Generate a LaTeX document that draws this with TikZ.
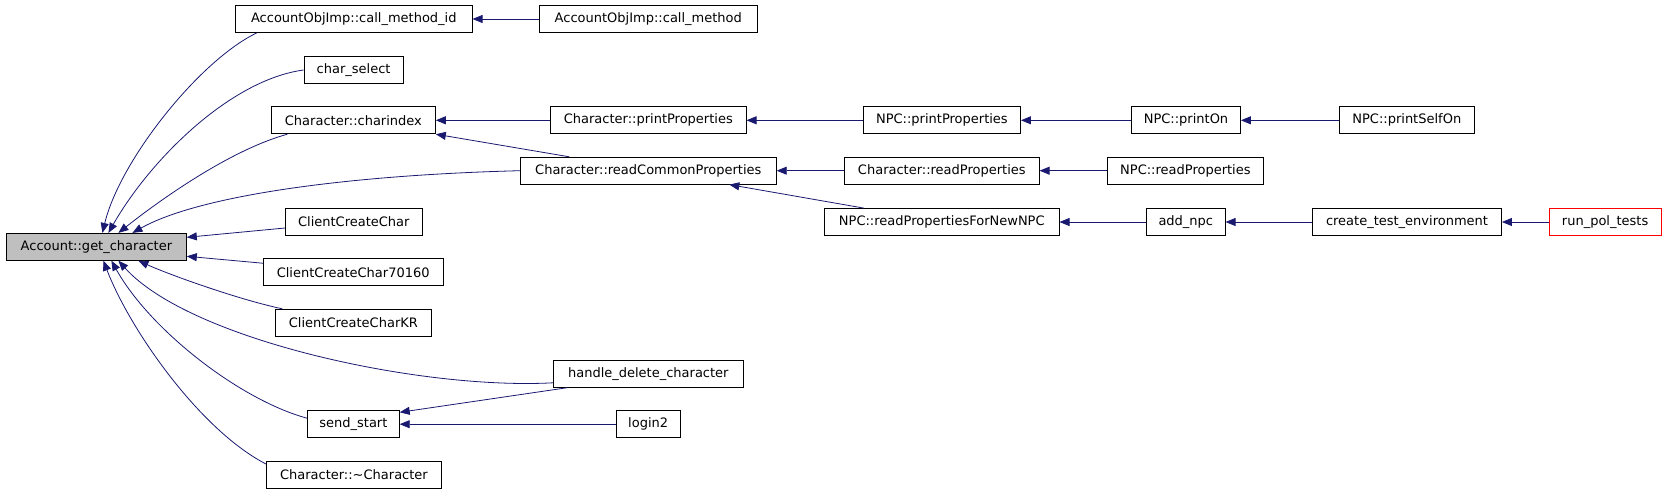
\documentclass[tikz,border=0pt]{standalone}
\usepackage{fontspec}
\setmainfont{DejaVu Sans}
\usetikzlibrary{arrows.meta}
\definecolor{edgeblue}{RGB}{25,25,112}
\definecolor{curgray}{RGB}{191,191,191}
\begin{document}
\begin{tikzpicture}[x=1pt,y=-1pt,
		fn/.style={draw,fill=white,line width=0.8pt,minimum height=27pt,inner xsep=1pt,inner ysep=0pt,font=\fontsize{13}{15}\selectfont},
		call/.style={->,draw=edgeblue,line width=0.8pt},
		>={Triangle[length=10pt,width=8pt]}]
		\useasboundingbox (0,0) rectangle (1667,493);
		\node[fn,fill=curgray,minimum width=180pt] (A) at (96.4,246.8) {Account::get\_character};
		\node[fn,minimum width=236.7pt] (B) at (353.8,19) {AccountObjImp::call\_method\_id};
		\node[fn,minimum width=218pt] (C) at (648.3,19) {AccountObjImp::call\_method};
		\node[fn,minimum width=99.3pt] (D) at (353.6,70) {char\_select};
		\node[fn,minimum width=164pt] (E) at (353.4,120.3) {Character::charindex};
		\node[fn,minimum width=195.6pt] (F) at (648.3,120.3) {Character::printProperties};
		\node[fn,minimum width=157.3pt] (G) at (941.9,120.3) {NPC::printProperties};
		\node[fn,minimum width=109pt] (H) at (1186,120.3) {NPC::printOn};
		\node[fn,minimum width=135pt] (I) at (1406.8,120.3) {NPC::printSelfOn};
		\node[fn,minimum width=256pt] (J) at (648.3,170.7) {Character::readCommonProperties};
		\node[fn,minimum width=194.8pt] (K) at (941.8,170.7) {Character::readProperties};
		\node[fn,minimum width=155.8pt] (L) at (1185.4,170.7) {NPC::readProperties};
		\node[fn,minimum width=136.7pt] (M) at (353.8,222) {ClientCreateChar};
		\node[fn,minimum width=234.6pt] (N) at (941.8,222) {NPC::readPropertiesForNewNPC};
		\node[fn,minimum width=78.7pt] (O) at (1185.8,222) {add\_npc};
		\node[fn,minimum width=189pt] (P) at (1407,222) {create\_test\_environment};
		\node[fn,draw=red,minimum width=112.2pt] (Q) at (1605.1,222) {run\_pol\_tests};
		\node[fn,minimum width=180pt] (R) at (353.2,272.2) {ClientCreateChar70160};
		\node[fn,minimum width=156pt] (S) at (353.4,322.7) {ClientCreateCharKR};
		\node[fn,minimum width=190pt] (T) at (648.3,373.8) {handle\_delete\_character};
		\node[fn,minimum width=91.8pt] (U) at (353.4,424.2) {send\_start};
		\node[fn,minimum width=64.3pt] (V) at (648.2,424.2) {login2};
		\node[fn,minimum width=175pt] (W) at (353.9,474.9) {Character::\textasciitilde Character};
		\draw[call] ([xshift=-97pt]B.south) .. controls (200,60) and (120,160) .. ([xshift=6pt]A.north);
		\draw[call] (D.west) .. controls (230,80) and (150,160) .. ([xshift=12pt]A.north);
		\draw[call] ([xshift=-66pt]E.south) .. controls (230,150) and (160,200) .. ([xshift=22pt]A.north);
		\draw[call] (J.west) .. controls (350,175) and (200,195) .. ([xshift=36pt]A.north);
		\draw[call] ([yshift=-6pt]M.west) to ([yshift=9.5pt]A.east);
		\draw[call] ([yshift=9pt]R.west) to ([yshift=-9.5pt]A.east);
		\draw[call] ([xshift=-71pt]S.north) .. controls (240,300) and (170,275) .. ([xshift=42pt]A.south);
		\draw[call] ([yshift=-9pt]T.west) .. controls (420,390) and (190,340) .. ([xshift=22pt]A.south);
		\draw[call] ([yshift=6pt]U.west) .. controls (240,400) and (150,330) .. ([xshift=15pt]A.south);
		\draw[call] ([yshift=-3pt]W.north west) .. controls (200,430) and (130,330) .. ([xshift=7pt]A.south);
		\draw[call] (C) to (B);
		\draw[call] (F) to (E);
		\draw[call] ([xshift=-79pt]J.north) to (E.south east);
		\draw[call] (G) to (F);
		\draw[call] (H) to (G);
		\draw[call] (I) to (H);
		\draw[call] (K) to (J);
		\draw[call] ([xshift=-78pt]N.north) to ([xshift=81pt]J.south);
		\draw[call] (L) to (K);
		\draw[call] (O) to (N);
		\draw[call] (P) to (O);
		\draw[call] (Q) to (P);
		\draw[call] ([xshift=-81pt]T.south) to ([yshift=-2pt]U.north east);
		\draw[call] (V) to (U);
\end{tikzpicture}
\end{document}
